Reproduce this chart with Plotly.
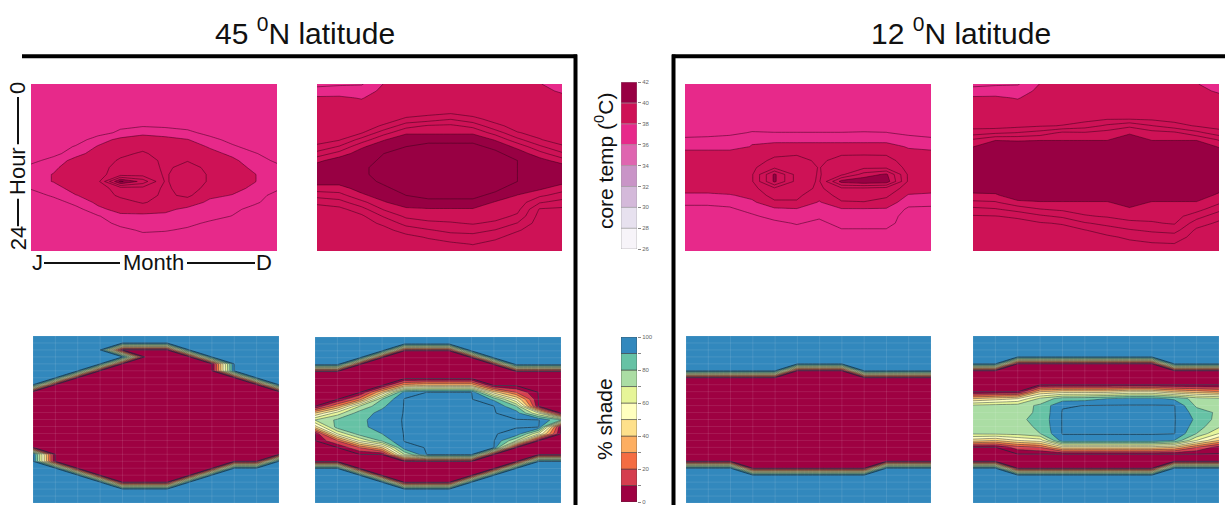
import numpy as np
import plotly.graph_objects as go

W, H = 1225, 508

months = [1, 2, 3, 4, 5, 6, 7, 8, 9, 10, 11, 12]
hours = [0, 1, 2, 3, 4, 5, 6, 7, 8, 9, 10, 11, 12, 13, 14, 15, 16, 17, 18, 19, 20, 21, 22, 23, 24]

temp_levels = [26, 28, 30, 32, 34, 36, 38, 40, 42]
temp_labels = [26, 28, 30, 32, 34, 36, 38, 40, 42]
temp_colors = ["#f7f4f9", "#e7e1ef", "#d4b9da", "#c994c7", "#df65b0",
               "#e7298a", "#ce1256", "#980043"]
shade_levels = [0, 10, 20, 30, 40, 50, 60, 70, 80, 90, 100]
shade_labels = [0, 20, 40, 60, 80, 100]
shade_colors = ["#9e0142", "#d53e4f", "#f46d43", "#fdae61", "#fee08b",
                "#ffffbf", "#e6f598", "#abdda4", "#66c2a5", "#3288bd"]

# core temperature (deg C), one list per month, hours 0..24
core_45_a = [
    [37.2,37.2,37.2,37.2,37.2,37.2,37.2,37.2,37.2,37.2,37.2,37.3,37.7,37.8,37.8,37.55,37.2,37.2,37.2,37.2,37.2,37.2,37.2,37.2,37.2],
    [37.2,37.2,37.2,37.2,37.2,37.2,37.2,37.2,37.2,37.2,37.3,37.75,37.9,38.02,38.02,37.8,37.6,37.2,37.2,37.2,37.2,37.2,37.2,37.2,37.2],
    [37.2,37.2,37.2,37.2,37.2,37.2,37.2,37.2,37.25,37.55,37.85,38.15,38.3,38.35,38.35,38.2,37.98,37.7,37.3,37.2,37.2,37.2,37.2,37.2,37.2],
    [37.2,37.2,37.2,37.2,37.2,37.2,37.2,37.3,37.75,38.05,38.2,38.3,38.3,38.35,38.35,38.3,38.2,38.1,37.9,37.45,37.2,37.2,37.2,37.2,37.2],
    [37.2,37.2,37.2,37.2,37.2,37.2,37.4,37.6,38.15,38.3,38.42,38.55,38.7,38.75,40.6,38.7,38.6,38.3,38.15,37.9,37.7,37.3,37.2,37.2,37.2],
    [37.2,37.2,37.2,37.2,37.2,37.2,37.45,37.9,38.2,38.4,38.55,38.7,38.75,38.8,39.8,38.8,38.7,38.55,38.2,37.9,37.8,37.6,37.3,37.2,37.2],
    [37.2,37.2,37.2,37.2,37.2,37.2,37.4,37.8,38.15,38.3,38.35,38.4,38.42,38.45,38.45,38.42,38.4,38.3,38.1,37.9,37.75,37.55,37.25,37.2,37.2],
    [37.2,37.2,37.2,37.2,37.2,37.2,37.3,37.65,38.02,38.25,38.4,38.48,38.65,38.75,38.75,38.7,38.6,38.25,37.9,37.8,37.65,37.4,37.2,37.2,37.2],
    [37.2,37.2,37.2,37.2,37.2,37.2,37.2,37.3,37.7,37.95,38.15,38.3,38.4,38.45,38.45,38.35,38.1,37.9,37.8,37.7,37.4,37.2,37.2,37.2,37.2],
    [37.2,37.2,37.2,37.2,37.2,37.2,37.2,37.2,37.3,37.6,37.9,38.1,38.2,38.25,38.25,38.15,37.98,37.8,37.65,37.48,37.25,37.2,37.2,37.2,37.2],
    [37.2,37.2,37.2,37.2,37.2,37.2,37.2,37.2,37.2,37.25,37.55,37.75,37.9,38.02,38.02,37.9,37.75,37.6,37.3,37.2,37.2,37.2,37.2,37.2,37.2],
    [37.2,37.2,37.2,37.2,37.2,37.2,37.2,37.2,37.2,37.2,37.2,37.4,37.65,37.7,37.7,37.6,37.3,37.2,37.2,37.2,37.2,37.2,37.2,37.2,37.2],
]

core_45_b = [
    [37.3,37.8,38.05,38.15,38.2,38.2,38.25,38.25,38.3,38.6,39.2,39.85,40.3,40.4,40.25,39.75,39.2,38.6,38.3,38.25,38.2,38.2,38.2,38.2,38.2],
    [37.4,37.85,38.05,38.15,38.2,38.25,38.3,38.35,38.45,39.05,39.7,40.3,40.4,40.4,40.2,39.8,39.3,38.8,38.35,38.25,38.2,38.2,38.2,38.2,38.2],
    [37.45,37.8,37.98,38.1,38.2,38.25,38.3,38.45,39.2,39.9,40.3,40.4,40.45,40.45,40.4,40.2,39.9,39.35,38.8,38.4,38.3,38.2,38.2,38.2,38.2],
    [38.02,38.1,38.15,38.2,38.25,38.3,38.55,39.3,39.95,40.4,40.5,40.55,40.6,40.6,40.55,40.45,40.25,39.95,39.55,39.05,38.6,38.35,38.25,38.2,38.2],
    [38.1,38.15,38.2,38.25,38.3,38.55,39.3,39.9,40.4,40.5,40.6,40.6,40.6,40.6,40.6,40.6,40.5,40.3,39.9,39.6,39.2,38.7,38.35,38.25,38.2],
    [38.1,38.15,38.2,38.25,38.3,38.7,39.55,39.9,40.4,40.6,40.6,40.6,40.6,40.6,40.6,40.6,40.6,40.4,39.95,39.7,39.4,38.95,38.55,38.3,38.2],
    [38.1,38.15,38.2,38.3,38.35,38.95,39.6,39.9,40.4,40.6,40.6,40.6,40.6,40.6,40.6,40.6,40.6,40.4,39.95,39.75,39.45,39.15,38.75,38.4,38.3],
    [38.1,38.15,38.2,38.25,38.3,38.6,39.35,39.9,40.4,40.6,40.6,40.6,40.6,40.6,40.6,40.6,40.6,40.4,39.95,39.8,39.55,39.2,38.8,38.52,38.3],
    [38.15,38.2,38.2,38.25,38.3,38.35,38.6,39.3,39.95,40.4,40.6,40.6,40.6,40.6,40.6,40.6,40.4,39.95,39.85,39.7,39.4,38.98,38.6,38.35,38.25],
    [38.15,38.2,38.2,38.25,38.3,38.3,38.35,38.52,39.15,39.85,40.3,40.5,40.5,40.5,40.5,40.3,39.98,39.8,39.65,39.4,38.98,38.55,38.3,38.25,38.2],
    [38.02,38.1,38.2,38.25,38.3,38.3,38.35,38.4,38.52,39.1,39.7,40.2,40.35,40.4,40.3,40.1,39.6,39.05,38.45,38.3,38.25,38.25,38.25,38.25,38.25],
    [37.8,37.95,38.1,38.15,38.2,38.25,38.3,38.3,38.35,38.55,39.1,39.75,40.3,40.35,40.2,39.7,39.3,38.8,38.4,38.3,38.25,38.25,38.25,38.25,38.25],
]

core_12_a = [
    [37.2,37.2,37.2,37.2,37.2,37.2,37.2,37.3,37.6,37.85,38.15,38.25,38.3,38.3,38.3,38.2,37.9,37.65,37.3,37.2,37.2,37.2,37.2,37.2,37.2],
    [37.2,37.2,37.2,37.2,37.2,37.2,37.2,37.3,37.65,37.85,38.15,38.25,38.3,38.3,38.3,38.2,37.9,37.65,37.3,37.2,37.2,37.2,37.2,37.2,37.2],
    [37.2,37.2,37.2,37.2,37.2,37.2,37.2,37.35,37.75,37.85,38.15,38.3,38.35,38.4,38.4,38.3,37.95,37.7,37.4,37.2,37.2,37.2,37.2,37.2,37.2],
    [37.2,37.2,37.2,37.2,37.2,37.2,37.25,37.55,37.95,38.02,38.2,38.3,38.4,38.45,38.45,38.35,38.15,37.9,37.7,37.4,37.2,37.2,37.2,37.2,37.2],
    [37.2,37.2,37.2,37.2,37.2,37.2,37.2,37.52,37.85,38.2,38.4,38.6,38.9,40.1,40.1,38.9,38.7,38.4,37.9,37.7,37.35,37.2,37.2,37.2,37.2],
    [37.2,37.2,37.2,37.2,37.2,37.2,37.2,37.52,37.85,38.2,38.45,38.65,38.75,38.8,38.8,38.75,38.6,38.45,37.95,37.8,37.55,37.3,37.2,37.2,37.2],
    [37.2,37.2,37.2,37.2,37.2,37.2,37.2,37.52,37.85,38.2,38.35,38.42,38.48,38.46,38.44,38.4,38.2,37.95,37.8,37.6,37.35,37.2,37.2,37.2,37.2],
    [37.2,37.2,37.2,37.2,37.2,37.2,37.2,37.52,37.85,38.2,38.45,38.65,38.8,38.9,40.2,38.9,38.7,38.45,37.95,37.85,37.7,37.45,37.25,37.2,37.2],
    [37.2,37.2,37.2,37.2,37.2,37.2,37.2,37.55,37.85,38.2,38.45,38.7,38.9,39.7,40.4,38.9,38.7,38.48,37.95,37.85,37.7,37.45,37.25,37.2,37.2],
    [37.2,37.2,37.2,37.2,37.2,37.2,37.2,37.52,37.85,38.2,38.45,38.65,38.9,40.1,40.3,38.8,38.6,38.3,37.95,37.85,37.7,37.45,37.25,37.2,37.2],
    [37.2,37.2,37.2,37.2,37.2,37.2,37.2,37.35,37.75,37.95,38.15,38.3,38.35,38.4,38.4,38.3,37.95,37.7,37.4,37.2,37.2,37.2,37.2,37.2,37.2],
    [37.2,37.2,37.2,37.2,37.2,37.2,37.2,37.3,37.6,37.85,38.15,38.25,38.3,38.3,38.3,38.2,37.9,37.7,37.35,37.2,37.2,37.2,37.2,37.2,37.2],
]

core_12_b = [
    [37.3,37.8,38.05,38.15,38.2,38.25,38.3,38.75,39.55,39.98,40.4,40.5,40.5,40.5,40.5,40.3,39.85,39.4,38.85,38.45,38.3,38.25,38.25,38.25,38.25],
    [37.4,37.85,38.05,38.15,38.2,38.25,38.25,38.9,39.95,40.4,40.5,40.5,40.5,40.5,40.5,40.3,39.9,39.45,38.95,38.48,38.3,38.25,38.25,38.25,38.25],
    [37.45,37.8,37.98,38.1,38.2,38.25,38.35,39.02,39.9,40.4,40.5,40.5,40.5,40.5,40.5,40.5,40.4,39.85,39.2,38.6,38.3,38.25,38.25,38.25,38.25],
    [38.02,38.1,38.15,38.2,38.25,38.3,38.45,39.2,39.95,40.4,40.5,40.5,40.5,40.5,40.5,40.5,40.4,39.95,39.48,38.9,38.45,38.3,38.25,38.25,38.25],
    [38.1,38.15,38.2,38.2,38.25,38.3,38.52,39.6,39.95,40.4,40.5,40.5,40.5,40.5,40.5,40.5,40.4,39.95,39.6,39.1,38.55,38.3,38.25,38.25,38.25],
    [38.1,38.15,38.2,38.25,38.3,38.3,38.75,39.55,39.95,40.4,40.5,40.5,40.5,40.5,40.5,40.5,40.4,39.95,39.7,39.45,38.95,38.48,38.3,38.25,38.25],
    [38.1,38.15,38.2,38.25,38.3,38.45,39.1,39.7,39.95,40.4,40.5,40.5,40.5,40.5,40.5,40.5,40.4,39.95,39.75,39.55,39.15,38.75,38.4,38.3,38.25],
    [38.1,38.15,38.2,38.25,38.3,38.45,39.4,39.9,40.4,40.5,40.5,40.5,40.5,40.5,40.5,40.5,40.5,40.3,39.9,39.65,39.4,38.95,38.6,38.35,38.3],
    [38.1,38.15,38.2,38.25,38.3,38.4,39.02,39.7,39.95,40.4,40.5,40.5,40.5,40.5,40.5,40.5,40.4,39.95,39.8,39.65,39.45,39.1,38.7,38.45,38.3],
    [38.1,38.15,38.2,38.25,38.3,38.3,38.7,39.6,39.95,40.4,40.5,40.5,40.5,40.5,40.5,40.5,40.4,39.95,39.8,39.7,39.55,39.2,38.75,38.48,38.3],
    [38.02,38.1,38.15,38.2,38.25,38.3,38.45,39.15,39.95,40.4,40.5,40.5,40.5,40.5,40.5,40.5,40.4,39.95,39.7,39.2,38.75,38.4,38.3,38.25,38.25],
    [37.8,37.95,38.1,38.15,38.2,38.25,38.3,38.7,39.45,39.95,40.3,40.45,40.45,40.45,40.45,40.25,39.85,39.6,39.15,38.7,38.4,38.3,38.25,38.25,38.25],
]

# percent shade selected, one list per month, hours 0..24
shade_45_a = [
    [100,100,100,100,100,100,100,100,0,0,0,0,0,0,0,0,0,100,100,100,100,100,100,100,100],
    [100,100,100,100,100,100,100,0,0,0,0,0,0,0,0,0,0,0,0,100,100,100,100,100,100],
    [100,100,100,100,100,100,0,0,0,0,0,0,0,0,0,0,0,0,0,0,100,100,100,100,100],
    [100,100,100,100,100,0,0,0,0,0,0,0,0,0,0,0,0,0,0,0,0,100,100,100,100],
    [100,100,0,100,0,0,0,0,0,0,0,0,0,0,0,0,0,0,0,0,0,0,100,100,100],
    [100,100,0,0,0,0,0,0,0,0,0,0,0,0,0,0,0,0,0,0,0,0,100,100,100],
    [100,100,0,0,0,0,0,0,0,0,0,0,0,0,0,0,0,0,0,0,0,0,100,100,100],
    [100,100,100,0,0,0,0,0,0,0,0,0,0,0,0,0,0,0,0,0,0,100,100,100,100],
    [100,100,100,100,0,0,0,0,0,0,0,0,0,0,0,0,0,0,0,0,100,100,100,100,100],
    [100,100,100,100,100,100,0,0,0,0,0,0,0,0,0,0,0,0,0,100,100,100,100,100,100],
    [100,100,100,100,100,100,100,0,0,0,0,0,0,0,0,0,0,0,0,100,100,100,100,100,100],
    [100,100,100,100,100,100,100,100,0,0,0,0,0,0,0,0,0,0,100,100,100,100,100,100,100],
]

shade_45_b = [
    [100,100,100,100,100,0,0,0,0,0,0,40,70,45,0,0,0,0,0,100,100,100,100,100,100],
    [100,100,100,100,100,0,0,0,0,0,30,65,82,85,60,20,0,0,0,100,100,100,100,100,100],
    [100,100,100,100,0,0,0,0,0,25,70,85,87,87,85,60,20,0,0,0,100,100,100,100,100],
    [100,100,100,0,0,0,0,0,40,80,88,93,96,95,90,82,40,0,0,0,0,100,100,100,100],
    [100,100,0,0,0,0,0,35,95,100,100,100,100,100,100,100,96,70,0,0,0,0,100,100,100],
    [100,100,0,0,0,0,0,40,99.6,100,100,100,100,100,100,100,100,99.6,0,0,0,0,100,100,100],
    [100,100,0,0,0,0,0,40,99.6,100,100,100,100,100,100,100,100,99.6,0,0,0,0,100,100,100],
    [100,100,100,0,0,0,0,40,99.6,100,100,100,100,100,100,100,100,99.6,0,0,0,100,100,100,100],
    [100,100,100,100,0,0,0,0,45,88,99.6,100,100,100,100,100,99.6,0,0,0,100,100,100,100,100],
    [100,100,100,100,100,0,0,0,20,50,80,95,100,100,97,70,0,0,0,100,100,100,100,100,100],
    [100,100,100,100,100,0,0,0,0,0,0,60,100,100,60,0,0,0,100,100,100,100,100,100,100],
    [100,100,100,100,100,0,0,0,0,0,0,0,80,0,0,0,0,0,100,100,100,100,100,100,100],
]

shade_12_a = [
    [100,100,100,100,100,100,0,0,0,0,0,0,0,0,0,0,0,0,0,100,100,100,100,100,100],
    [100,100,100,100,100,100,0,0,0,0,0,0,0,0,0,0,0,0,0,100,100,100,100,100,100],
    [100,100,100,100,100,100,0,0,0,0,0,0,0,0,0,0,0,0,0,100,100,100,100,100,100],
    [100,100,100,100,100,100,0,0,0,0,0,0,0,0,0,0,0,0,0,0,100,100,100,100,100],
    [100,100,100,100,100,100,0,0,0,0,0,0,0,0,0,0,0,0,0,0,100,100,100,100,100],
    [100,100,100,100,100,0,0,0,0,0,0,0,0,0,0,0,0,0,0,0,100,100,100,100,100],
    [100,100,100,100,100,0,0,0,0,0,0,0,0,0,0,0,0,0,0,0,100,100,100,100,100],
    [100,100,100,100,100,0,0,0,0,0,0,0,0,0,0,0,0,0,0,0,100,100,100,100,100],
    [100,100,100,100,100,100,0,0,0,0,0,0,0,0,0,0,0,0,0,0,100,100,100,100,100],
    [100,100,100,100,100,100,0,0,0,0,0,0,0,0,0,0,0,0,0,100,100,100,100,100,100],
    [100,100,100,100,100,100,0,0,0,0,0,0,0,0,0,0,0,0,0,100,100,100,100,100,100],
    [100,100,100,100,100,100,0,0,0,0,0,0,0,0,0,0,0,0,0,100,100,100,100,100,100],
]

shade_12_b = [
    [100,100,100,100,100,0,0,0,0,40,72,75,75,74,72,45,0,0,0,100,100,100,100,100,100],
    [100,100,100,100,100,0,0,0,0,45,74,76,77,76,73,40,0,0,0,100,100,100,100,100,100],
    [100,100,100,100,0,0,0,0,0,50,75,76,78,76,74,50,15,0,0,0,100,100,100,100,100],
    [100,100,100,100,0,0,0,0,40,72,82,82,83,82,80,55,20,0,0,0,100,100,100,100,100],
    [100,100,100,100,0,0,0,0,45,85,99,100,100,100,100,96,45,0,0,0,100,100,100,100,100],
    [100,100,100,100,0,0,0,0,45,86,99.6,100,100,100,100,96,45,0,0,0,100,100,100,100,100],
    [100,100,100,100,0,0,0,0,45,90,100,100,100,100,100,96,45,0,0,0,100,100,100,100,100],
    [100,100,100,100,0,0,0,0,50,93,100,100,100,100,100,96,45,0,0,0,100,100,100,100,100],
    [100,100,100,100,0,0,0,0,50,93,100,100,100,100,100,96,45,0,0,0,100,100,100,100,100],
    [100,100,100,100,100,0,0,0,40,88,100,100,100,100,100,90,40,0,0,100,100,100,100,100,100],
    [100,100,100,100,100,0,0,0,35,75,78,85,88,85,80,60,20,0,0,100,100,100,100,100,100],
    [100,100,100,100,100,0,0,0,30,72,76,78,76,72,60,40,5,0,0,100,100,100,100,100,100],
]

FONT = "Liberation Sans, Arial, Helvetica, sans-serif"

# (field, kind, pixel box: left, right, top, bottom)
panels = [
    (core_45_a, "temp", (31, 277, 82, 251)),
    (core_45_b, "temp", (317, 562, 82, 251)),
    (shade_45_a, "shade", (33, 279, 337, 506)),
    (shade_45_b, "shade", (315, 561, 338, 506)),
    (core_12_a, "temp", (685, 931, 82, 251)),
    (core_12_b, "temp", (973, 1219, 82, 251)),
    (shade_12_a, "shade", (686, 931, 337, 506)),
    (shade_12_b, "shade", (973, 1219, 337, 506)),
]


def ax_names(i):
    s = "" if i == 1 else str(i)
    return "x" + s, "y" + s, "xaxis" + s, "yaxis" + s


def stepped_scale(colors):
    n = len(colors) - 1
    return [[k / n, c] for k, c in enumerate(colors)]


fig = go.Figure()
layout = {}

grid_x, grid_y = [], []
for m in months:
    grid_x += [m, m, None]
    grid_y += [hours[0], hours[-1], None]
for h in hours:
    grid_x += [months[0], months[-1], None]
    grid_y += [h, h, None]

for i, (field, kind, (l, r, t, b)) in enumerate(panels, start=1):
    xr, yr, xa, ya = ax_names(i)
    z = np.array(field, dtype=float).T.tolist()
    if kind == "temp":
        fig.add_trace(go.Contour(
            x=months, y=hours, z=z, xaxis=xr, yaxis=yr, showscale=False,
            autocontour=False,
            contours=dict(start=temp_levels[1], end=temp_levels[-2], size=2,
                          coloring="fill", showlines=False),
            colorscale=stepped_scale(temp_colors),
            line=dict(width=0, smoothing=0), hoverinfo="skip"))
        fig.add_trace(go.Contour(
            x=months, y=hours, z=z, xaxis=xr, yaxis=yr, showscale=False,
            autocontour=False,
            contours=dict(start=36, end=42, size=0.5, coloring="none"),
            line=dict(color="rgba(55,0,25,0.85)", width=0.6, smoothing=0),
            hoverinfo="skip"))
    else:
        fig.add_trace(go.Contour(
            x=months, y=hours, z=z, xaxis=xr, yaxis=yr, showscale=False,
            autocontour=False,
            contours=dict(start=shade_levels[1], end=shade_levels[-2], size=10,
                          coloring="fill", showlines=False),
            colorscale=stepped_scale(shade_colors),
            line=dict(width=0, smoothing=0), hoverinfo="skip"))
        fig.add_trace(go.Scatter(
            x=grid_x, y=grid_y, xaxis=xr, yaxis=yr, mode="lines",
            line=dict(color="rgba(255,255,255,0.13)", width=0.8),
            hoverinfo="skip", showlegend=False))
        fig.add_trace(go.Contour(
            x=months, y=hours, z=z, xaxis=xr, yaxis=yr, showscale=False,
            autocontour=False,
            contours=dict(start=10, end=90, size=10, coloring="none"),
            line=dict(color="rgba(25,40,55,0.75)", width=0.6, smoothing=0),
            hoverinfo="skip"))
        fig.add_trace(go.Contour(
            x=months, y=hours, z=z, xaxis=xr, yaxis=yr, showscale=False,
            autocontour=False,
            contours=dict(start=0.5, end=99.5, size=99, coloring="none"),
            line=dict(color="rgba(20,45,60,0.9)", width=0.8, smoothing=0),
            hoverinfo="skip"))
    layout[xa] = dict(domain=[l / W, r / W], range=[months[0], months[-1]],
                      visible=False, anchor=yr, fixedrange=True)
    layout[ya] = dict(domain=[1 - b / H, 1 - t / H], range=[hours[-1], hours[0]],
                      visible=False, anchor=xr, fixedrange=True)

# colour keys drawn as stacked bars
bar_l, bar_r = 621, 637
keys = [
    (temp_levels, temp_colors, (80, 249), temp_labels, "rgba(150,150,150,0.9)"),
    (shade_levels, shade_colors, (338, 505), shade_labels, "rgba(60,60,60,0.9)"),
]
for j, (levels, colors, (t, b), labels, sep) in enumerate(keys, start=9):
    xr, yr, xa, ya = ax_names(j)
    fig.add_trace(go.Bar(
        x=[0] * (len(levels) - 1), y=np.diff(levels).tolist(), base=levels[:-1],
        width=1, marker=dict(color=colors, line=dict(color=sep, width=0.6)),
        xaxis=xr, yaxis=yr, showlegend=False, hoverinfo="skip"))
    layout[xa] = dict(domain=[bar_l / W, bar_r / W], range=[-0.5, 0.5],
                      visible=False, anchor=yr, fixedrange=True)
    layout[ya] = dict(domain=[1 - b / H, 1 - t / H], range=[levels[0], levels[-1]],
                      side="right", anchor=xr, showgrid=False, zeroline=False,
                      showline=False, ticks="outside", ticklen=3, tickwidth=0.6,
                      tickcolor="#888", tickmode="array", tickvals=labels,
                      ticktext=[str(v) for v in labels],
                      minor=dict(tickmode="array", tickvals=levels, ticks="outside",
                                 ticklen=3, tickwidth=0.6, tickcolor="#888",
                                 showgrid=False),
                      tickfont=dict(size=6, color="#666", family=FONT),
                      fixedrange=True)


def px(x, y):
    return x / W, 1 - y / H


annotations = []


def label(text, x, y, size, angle=0, color="#111"):
    ax_, ay_ = px(x, y)
    annotations.append(dict(text=text, x=ax_, y=ay_, xref="paper", yref="paper",
                            xanchor="center", yanchor="middle", showarrow=False,
                            textangle=angle,
                            font=dict(size=size, color=color, family=FONT)))


label("45 <sup>0</sup>N latitude", 305, 28, 30)
label("12 <sup>0</sup>N latitude", 961, 28, 30)
label("core temp (<sup>0</sup>C)", 604, 160, 21, -90)
label("% shade", 604, 421, 21, -90)
label("0", 18, 86, 22, -90)
label("Hour", 18, 170, 22, -90)
label("24", 18, 238, 22, -90)
label("J", 37, 263, 22)
label("Month", 153, 263, 22)
label("D", 264, 263, 22)

shapes = []


def rule(x0, y0, x1, y1, w, color="#000"):
    a0, b0 = px(x0, y0)
    a1, b1 = px(x1, y1)
    shapes.append(dict(type="line", xref="paper", yref="paper", x0=a0, y0=b0,
                       x1=a1, y1=b1, line=dict(color=color, width=w)))


# group brackets
rule(22, 54, 577, 54, 4)
rule(575.5, 52, 575.5, 508, 4)
rule(672, 54, 1225, 54, 4)
rule(673.5, 52, 673.5, 508, 4)
# axis guides on the first panel
rule(18, 95, 18, 143, 2, "#111")
rule(18, 198, 18, 226, 2, "#111")
rule(44, 263, 120, 263, 2, "#111")
rule(187, 263, 255, 263, 2, "#111")

fig.update_layout(
    width=W, height=H, margin=dict(l=0, r=0, t=0, b=0),
    paper_bgcolor="white", plot_bgcolor="white", showlegend=False,
    annotations=annotations, shapes=shapes, barmode="overlay",
    **layout)

fig.write_html("out.html")
